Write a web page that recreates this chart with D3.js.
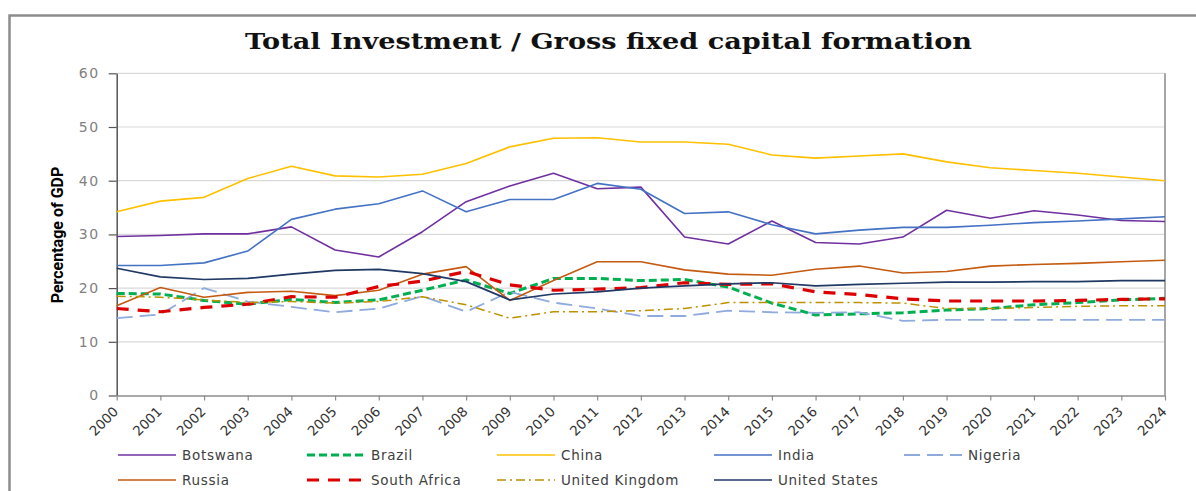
<!DOCTYPE html>
<html>
<head>
<meta charset="utf-8">
<script src="https://cdn.jsdelivr.net/npm/d3@7"></script>
<style>
  body { margin: 0; background: #fff; }
  svg { display: block; }
</style>
</head>
<body>
<svg id="chart" width="1196" height="491"></svg>
<script>
// Gross fixed capital formation, % of GDP, 2000-2024
const years = [2000, 2001, 2002, 2003, 2004, 2005, 2006, 2007, 2008, 2009, 2010, 2011, 2012,
               2013, 2014, 2015, 2016, 2017, 2018, 2019, 2020, 2021, 2022, 2023, 2024];
const yTicks = [0, 10, 20, 30, 40, 50, 60];

const countries = ["Botswana", "Brazil", "China", "India", "Nigeria",
                   "Russia", "South Africa", "United Kingdom", "United States"];

const botswana     = [29.6, 29.8, 30.1, 30.1, 31.4, 27.1, 25.8, 30.5, 36.1, 39.0, 41.4, 38.5, 38.8, 29.5, 28.2, 32.5, 28.5, 28.2, 29.5, 34.5, 33.0, 34.4, 33.6, 32.6, 32.4];
const brazil       = [19.0, 18.9, 17.7, 17.0, 17.9, 17.3, 17.8, 19.6, 21.5, 19.0, 21.8, 21.8, 21.4, 21.6, 20.2, 17.2, 15.0, 15.2, 15.4, 15.9, 16.2, 16.9, 17.3, 17.8, 18.1];
const china        = [34.2, 36.2, 36.9, 40.4, 42.7, 40.9, 40.7, 41.2, 43.2, 46.3, 47.9, 48.0, 47.2, 47.2, 46.8, 44.8, 44.2, 44.6, 45.0, 43.5, 42.4, 41.9, 41.4, 40.7, 40.0];
const india        = [24.2, 24.2, 24.7, 26.9, 32.8, 34.7, 35.7, 38.1, 34.2, 36.5, 36.5, 39.5, 38.4, 33.9, 34.2, 31.8, 30.1, 30.8, 31.3, 31.3, 31.7, 32.2, 32.5, 32.9, 33.3];
const nigeria      = [14.4, 15.1, 20.0, 17.5, 16.5, 15.5, 16.2, 18.5, 15.6, 19.3, 17.3, 16.2, 14.8, 14.8, 15.8, 15.5, 15.4, 15.5, 13.9, 14.1, 14.1, 14.1, 14.1, 14.1, 14.1];
const russia       = [16.7, 20.1, 18.3, 19.2, 19.4, 18.6, 19.6, 22.6, 24.0, 17.7, 21.4, 24.9, 24.9, 23.4, 22.6, 22.4, 23.5, 24.1, 22.8, 23.1, 24.1, 24.4, 24.6, 24.9, 25.2];
const southAfrica  = [16.2, 15.6, 16.4, 17.0, 18.4, 18.3, 20.3, 21.3, 23.1, 20.6, 19.6, 19.8, 20.1, 21.0, 20.7, 20.8, 19.3, 18.8, 18.0, 17.6, 17.6, 17.6, 17.7, 17.9, 18.0];
const unitedKingdom= [18.5, 18.3, 17.8, 17.3, 17.5, 17.2, 17.5, 18.4, 16.9, 14.4, 15.6, 15.6, 15.8, 16.2, 17.3, 17.3, 17.3, 17.3, 17.2, 16.2, 16.2, 16.4, 16.6, 16.7, 16.7];
const unitedStates = [23.7, 22.1, 21.6, 21.8, 22.6, 23.3, 23.5, 22.7, 21.2, 17.8, 18.9, 19.3, 20.0, 20.4, 20.8, 21.0, 20.4, 20.7, 20.9, 21.1, 21.1, 21.2, 21.2, 21.4, 21.4];

const seriesValues = [botswana, brazil, china, india, nigeria, russia, southAfrica, unitedKingdom, unitedStates];

// Line styles per country
const styles = {
  "Botswana":       { color: "#7030A0", width: 1.6, dash: null },
  "Brazil":         { color: "#00B050", width: 3,   dash: "8,4" },
  "China":          { color: "#FFC000", width: 1.6, dash: null },
  "India":          { color: "#4472C4", width: 1.6, dash: null },
  "Nigeria":        { color: "#8FAADC", width: 1.8, dash: "16,7" },
  "Russia":         { color: "#C55A11", width: 1.6, dash: null },
  "South Africa":   { color: "#DD0000", width: 3.2, dash: "12,9" },
  "United Kingdom": { color: "#BF9000", width: 1.5, dash: "9,4,2,4" },
  "United States":  { color: "#203864", width: 1.7, dash: null }
};

const svg = d3.select("#chart");

const plot = { left: 116.7, right: 1165, top: 73.3, bottom: 395.5 };

const x = d3.scalePoint().domain(years).range([plot.left, plot.right]);
const y = d3.scaleLinear().domain([0, 60]).range([plot.bottom, plot.top]);

// Outer chart frame
svg.append("path")
  .attr("d", "M9.5,491 V15.5 H1196")
  .attr("fill", "none")
  .attr("stroke", "#8c8c8c")
  .attr("stroke-width", 2.5);

// Title
svg.append("text")
  .attr("x", 608.5)
  .attr("y", 49)
  .attr("text-anchor", "middle")
  .attr("font-family", "'DejaVu Serif', serif")
  .attr("font-weight", "bold")
  .attr("font-size", 22)
  .attr("textLength", 727)
  .attr("lengthAdjust", "spacingAndGlyphs")
  .attr("fill", "#111")
  .text("Total Investment / Gross fixed capital formation");

// Horizontal gridlines
svg.append("g")
  .selectAll("line")
  .data(yTicks.filter(d => d > 0))
  .join("line")
  .attr("x1", plot.left)
  .attr("x2", plot.right)
  .attr("y1", d => y(d))
  .attr("y2", d => y(d))
  .attr("stroke", "#d9d9d9")
  .attr("stroke-width", 1.2);

// Plot-area right border
svg.append("line")
  .attr("x1", plot.right).attr("x2", plot.right)
  .attr("y1", plot.top).attr("y2", plot.bottom)
  .attr("stroke", "#a6a6a6")
  .attr("stroke-width", 2);

// Y axis
const yAxis = svg.append("g")
  .attr("transform", `translate(${plot.left},0)`)
  .call(d3.axisLeft(y).tickValues(yTicks).tickSize(8).tickPadding(9).tickSizeOuter(0));
yAxis.select(".domain").attr("stroke", "#555").attr("stroke-width", 1.5);
yAxis.selectAll(".tick line").attr("stroke", "#555").attr("stroke-width", 1.2);
yAxis.selectAll(".tick text")
  .attr("font-family", "'DejaVu Sans', sans-serif")
  .attr("font-size", 14)
  .attr("letter-spacing", 1.5)
  .attr("fill", "#7f7f7f");

// X axis
const xAxis = svg.append("g")
  .attr("transform", `translate(0,${plot.bottom})`)
  .call(d3.axisBottom(x).tickSize(5).tickSizeOuter(0));
xAxis.select(".domain").attr("stroke", "#8c8c8c").attr("stroke-width", 1.5);
xAxis.selectAll(".tick line").attr("stroke", "#8c8c8c").attr("stroke-width", 1.2);
xAxis.selectAll(".tick text")
  .attr("x", 0).attr("y", 0).attr("dy", 0)
  .attr("transform", "translate(2,17) rotate(-45)")
  .attr("text-anchor", "end")
  .attr("font-family", "'DejaVu Sans', sans-serif")
  .attr("font-size", 13.5)
  .attr("fill", "#333");

// Y axis title
svg.append("text")
  .attr("transform", "translate(63,235) rotate(-90)")
  .attr("text-anchor", "middle")
  .attr("font-family", "'Liberation Sans Narrow', 'Roboto', sans-serif")
  .attr("font-weight", "bold")
  .attr("font-size", 16)
  .attr("fill", "#000")
  .text("Percentage of GDP");

// Series lines
const line = d3.line()
  .x((d, i) => x(years[i]))
  .y(d => y(d));

svg.append("g")
  .selectAll("path")
  .data(countries.map((c, i) => ({ name: c, values: seriesValues[i] })))
  .join("path")
  .attr("d", d => line(d.values))
  .attr("fill", "none")
  .attr("stroke", d => styles[d.name].color)
  .attr("stroke-width", d => styles[d.name].width)
  .attr("stroke-dasharray", d => styles[d.name].dash)
  .attr("stroke-linejoin", "round");

// Legend: five columns, two rows
const legendCols = [118, 307, 497, 714, 904];
const legendRows = [455, 480];
const legend = svg.append("g")
  .selectAll("g")
  .data(countries)
  .join("g")
  .attr("transform", (d, i) => `translate(${legendCols[i % 5]},${legendRows[Math.floor(i / 5)]})`);

legend.append("line")
  .attr("x1", 0).attr("x2", 58)
  .attr("y1", 0).attr("y2", 0)
  .attr("stroke", d => styles[d].color)
  .attr("stroke-width", d => styles[d].width)
  .attr("stroke-dasharray", d => styles[d].dash);

legend.append("text")
  .attr("x", 64)
  .attr("y", 0)
  .attr("dy", "0.36em")
  .attr("font-family", "'DejaVu Sans', sans-serif")
  .attr("font-size", 13.5)
  .attr("letter-spacing", 0.7)
  .attr("fill", "#404040")
  .text(d => d);
</script>
</body>
</html>
